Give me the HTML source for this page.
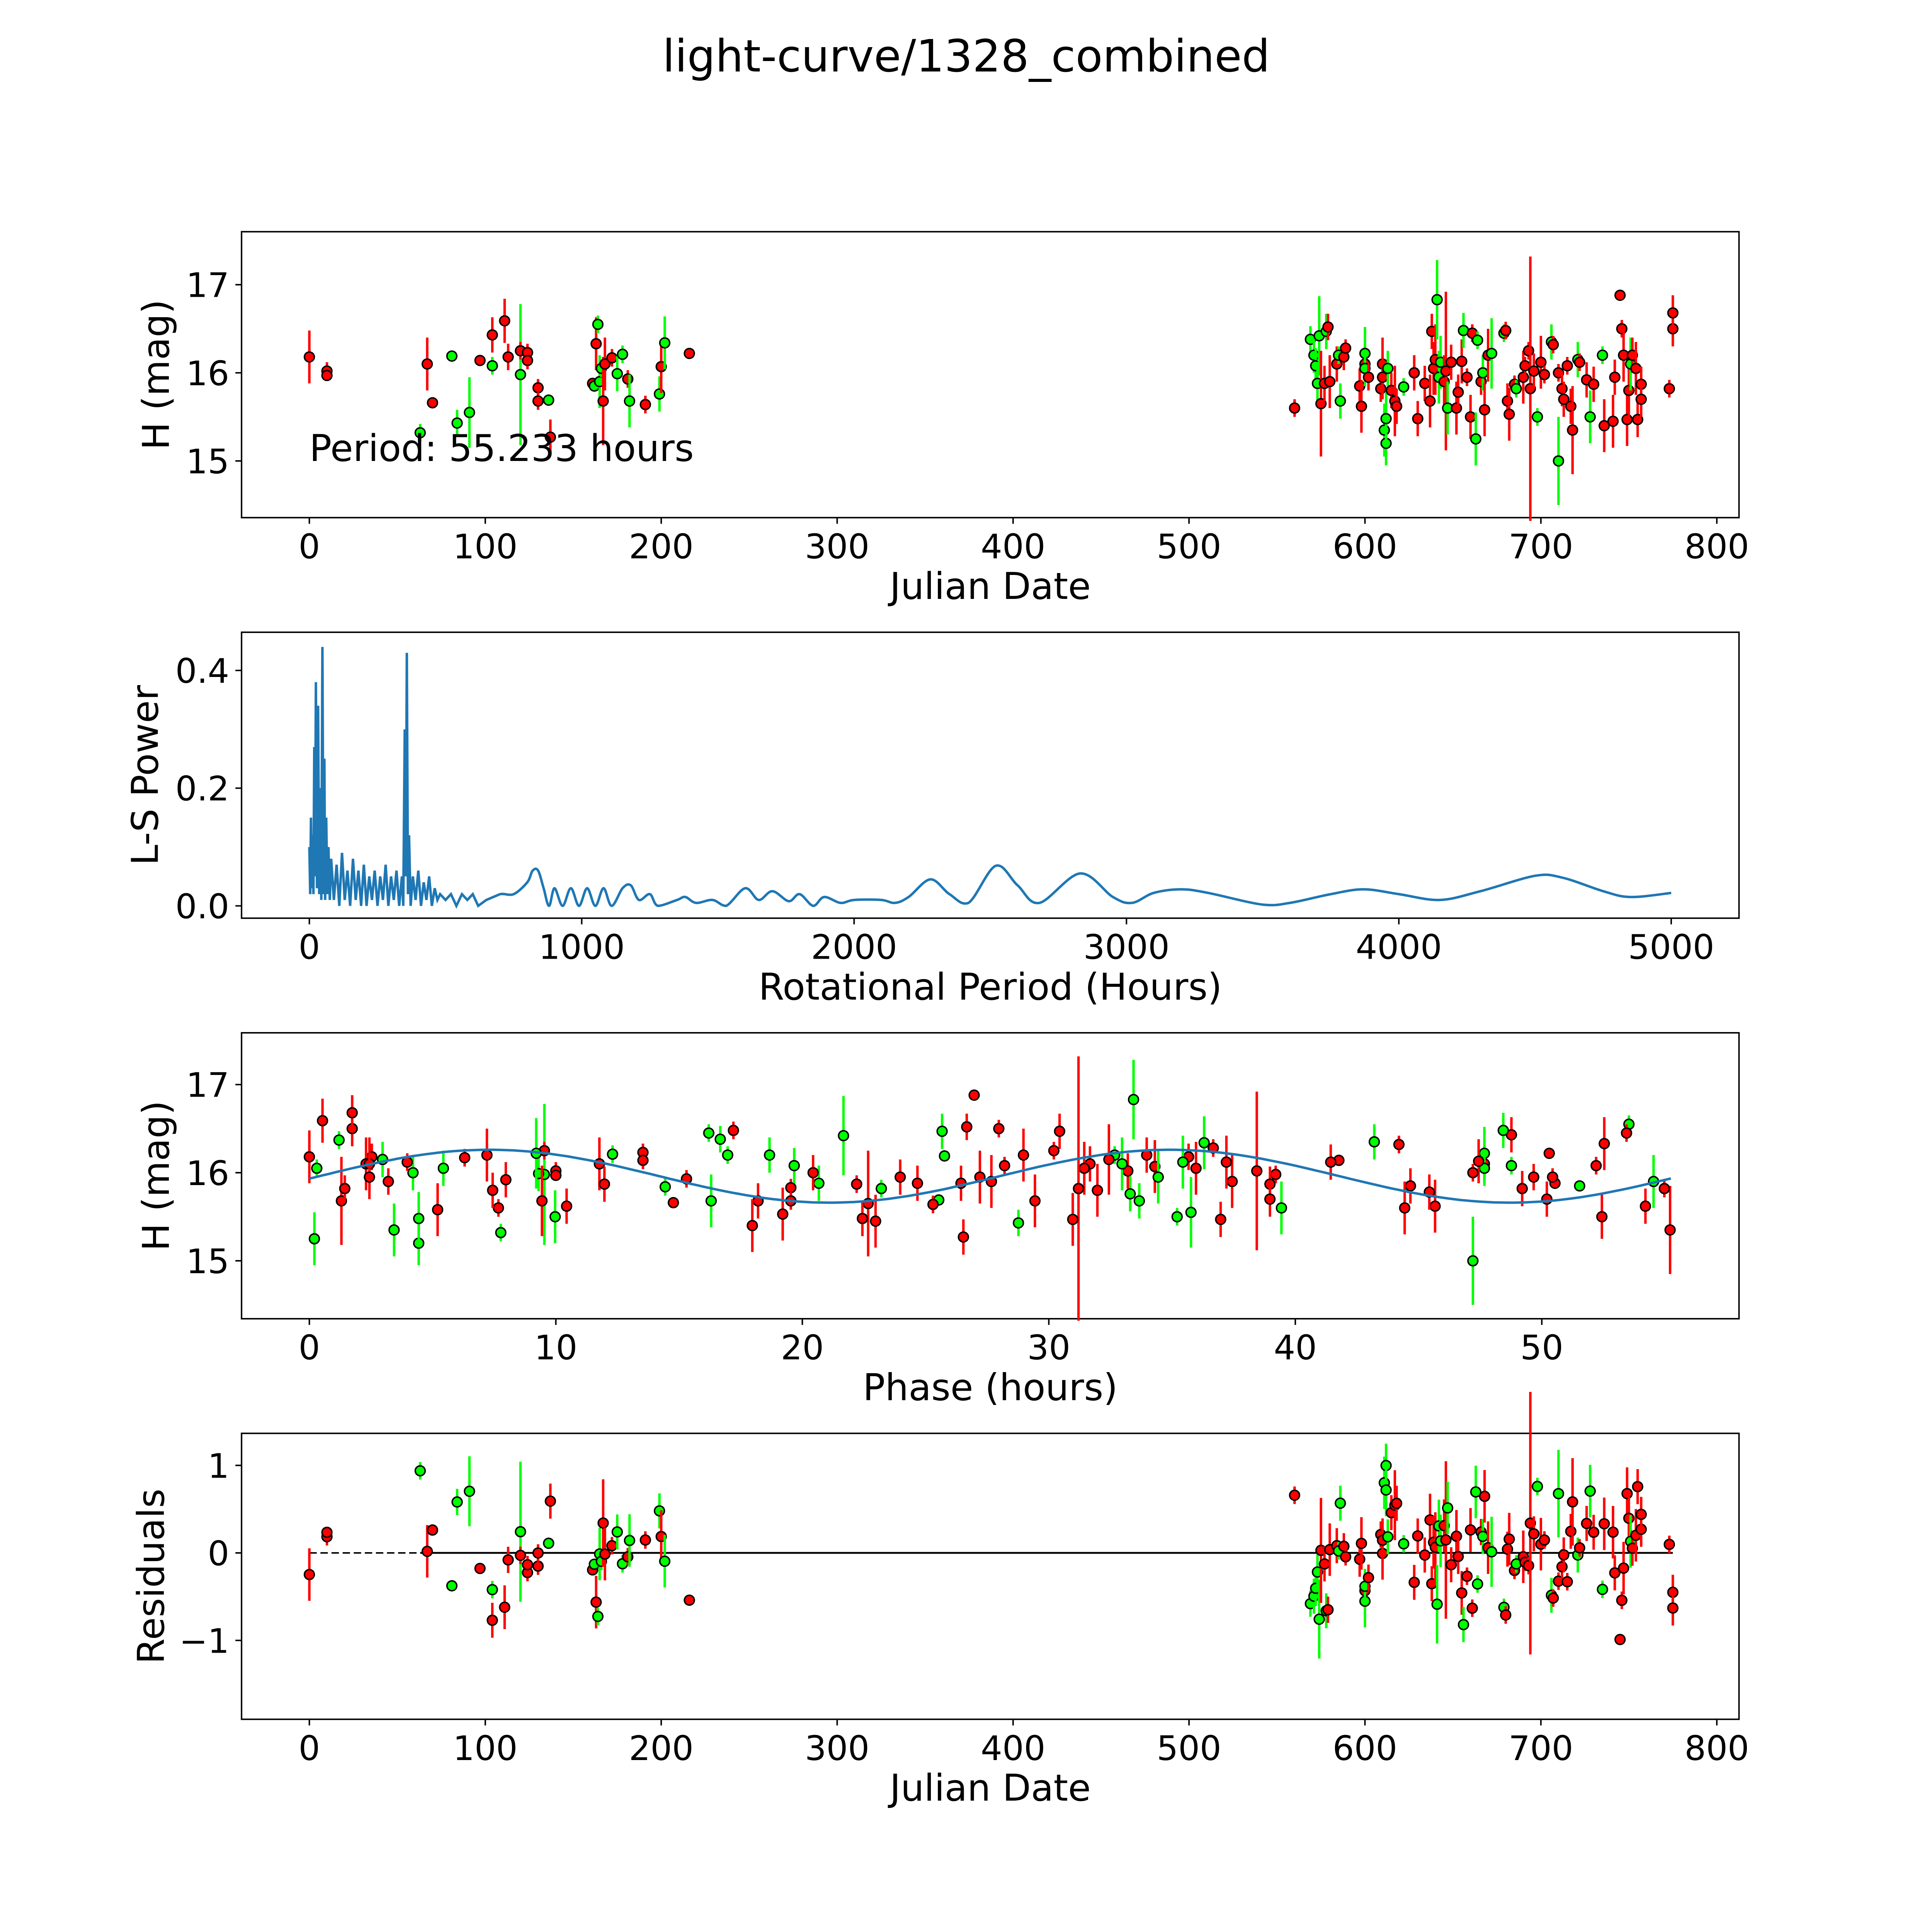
<!DOCTYPE html>
<html><head><meta charset="utf-8"><style>
html,body{margin:0;padding:0;background:#fff;width:5400px;height:5400px;overflow:hidden;}
svg{display:block;font-family:"DejaVu Sans","Liberation Sans",sans-serif;}
</style></head><body>
<svg id="chart" width="5400" height="5400" viewBox="0 0 1693 1693" xmlns="http://www.w3.org/2000/svg">
<rect width="1693" height="1693" fill="#fff"/>
<text x="784" y="58" font-size="36" text-anchor="middle">light-curve/1328_combined</text>
<g id="g1"></g>
<g id="g2"></g>
<g id="g3"></g>
<g id="g4"></g>
</svg>
<script>
const PERIOD = 55.233;
const jd = [0,10,10,63,67,70,81,84,91,97,104,104,111,113,120,120,124,124,130,130,136,137,161,162,163,164,165,166,167,168,172,175,178,181,182,191,199,200,202,216,
560,569,571,572,573,574,575,577,578,579,580,584,585,586,588,589,597,598,600,600,600,602,609,610,610,611,612,612,613,615,617,618,622,628,630,634,637,638,639,640,641,642,643,645,646,647,649,652,653,655,656,658,660,661,663,664,666,667,668,670,672,679,680,681,682,685,686,690,691,693,694,696,698,700,702,706,707,710,710,712,713,715,717,718,721,722,726,728,730,735,736,741,742,745,746,747,749,750,751,752,754,755,757,757,773,775,775];
const mag = [16.18,16.02,15.97,15.32,16.1,15.66,16.19,15.43,15.55,16.14,16.08,16.43,16.59,16.18,15.98,16.25,16.23,16.14,15.83,15.68,15.69,15.27,15.88,15.85,16.33,16.55,15.9,16.05,15.68,16.1,16.17,15.99,16.21,15.93,15.68,15.64,15.76,16.07,16.34,16.22,
15.6,16.38,16.2,16.08,15.88,16.42,15.65,15.88,16.47,16.52,15.9,16.1,16.2,15.68,16.18,16.28,15.85,15.62,16.1,16.22,16.05,15.95,15.82,16.1,15.95,15.35,15.2,15.48,16.05,15.8,15.68,15.62,15.84,16.0,15.48,15.88,15.68,16.47,16.05,16.15,16.83,15.95,16.12,15.9,16.02,15.6,16.12,15.6,15.78,16.13,16.48,15.95,15.5,16.45,15.25,16.37,15.9,16.0,15.58,16.2,16.22,16.45,16.48,15.68,15.53,15.87,15.82,15.95,16.08,16.25,15.82,16.02,15.5,16.12,15.98,16.35,16.32,16.0,15.0,15.82,15.7,16.08,15.62,15.35,16.15,16.12,15.92,15.5,15.87,16.2,15.4,15.45,15.95,16.88,16.5,16.2,15.47,15.8,16.1,16.2,16.05,15.47,15.87,15.7,15.82,16.5,16.68];
const err = [0.3,0.1,0.05,0.1,0.3,0.05,0.05,0.15,0.4,0.05,0.1,0.2,0.25,0.15,0.8,0.1,0.1,0.1,0.1,0.1,0.05,0.2,0.05,0.05,0.3,0.1,0.3,0.1,0.5,0.3,0.1,0.2,0.1,0.1,0.3,0.1,0.2,0.3,0.3,0.05,
0.1,0.15,0.2,0.2,0.2,0.45,0.6,0.2,0.2,0.15,0.3,0.2,0.1,0.2,0.15,0.1,0.2,0.3,0.2,0.3,0.2,0.15,0.15,0.3,0.25,0.3,0.25,0.3,0.2,0.2,0.4,0.2,0.1,0.2,0.2,0.2,0.3,0.2,0.3,0.4,0.45,0.3,0.3,0.3,0.9,0.3,0.2,0.3,0.2,0.25,0.2,0.1,0.25,0.1,0.3,0.1,0.15,0.2,0.3,0.3,0.4,0.1,0.1,0.2,0.3,0.1,0.1,0.3,0.1,0.1,1.5,0.2,0.1,0.3,0.1,0.2,0.1,0.1,0.5,0.2,0.2,0.1,0.2,0.5,0.2,0.1,0.2,0.3,0.2,0.1,0.3,0.3,0.2,0.05,0.1,0.3,0.3,0.3,0.3,0.2,0.3,0.2,0.2,0.2,0.1,0.2,0.2];
const band = "rrrgrrgggrgrrrgrrrrrgrrgrgggrrrggrgrgrgr"+"rgggggrrgrrrggrrrrrggrrrrggggrrrgrrrrrrrgggrrgrrrrgrrrggrgrrggrrrrgrrrrrgrrgrrgrrrrrgrrgrgrrrrrrrrgrrrrrrrrr";
const perX = [0,3,6,9,12,15,18,21,24,28,32,36,40,44,48,52,55,58,62,66,70,75,80,90,100,110,120,130,140,150,160,170,180,190,200,210,220,230,240,250,260,270,280,290,300,310,320,330,340,345,350,354,358,362,366,372,380,390,400,410,420,430,440,450,460,470,480,500,520,540,560,580,600,620,650,700,750,800,820,840,860,880,900,930,960,990,1020,1050,1080,1110,1150,1180,1210,1250,1280,1350,1380,1420,1480,1530,1600,1650,1700,1760,1800,1850,1890,1950,2000,2100,2150,2200,2280,2350,2420,2520,2600,2680,2830,2950,3020,3100,3200,3300,3500,3600,3750,3870,4000,4150,4300,4500,4600,4750,4850,5000];
const perY = [0.1,0.02,0.15,0.03,0.12,0.02,0.27,0.05,0.38,0.03,0.34,0.02,0.2,0.01,0.44,0.02,0.25,0.01,0.15,0.02,0.1,0.01,0.08,0.01,0.07,0.0,0.09,0.01,0.06,0.0,0.08,0.01,0.06,0.0,0.07,0.0,0.05,0.01,0.06,0.0,0.05,0.01,0.07,0.0,0.05,0.01,0.06,0.0,0.05,0.0,0.3,0.05,0.43,0.02,0.12,0.0,0.05,0.01,0.06,0.0,0.04,0.01,0.05,0.0,0.03,0.01,0.02,0.01,0.02,0.0,0.02,0.01,0.02,0.0,0.01,0.02,0.02,0.04,0.06,0.06,0.03,0.0,0.03,0.0,0.03,0.0,0.03,0.0,0.03,0.0,0.03,0.035,0.01,0.02,0.0,0.01,0.015,0.005,0.01,0.0,0.03,0.01,0.025,0.008,0.02,0.0,0.015,0.005,0.01,0.01,0.005,0.015,0.045,0.02,0.005,0.068,0.035,0.005,0.055,0.015,0.005,0.022,0.028,0.022,0.002,0.005,0.02,0.028,0.02,0.01,0.025,0.051,0.048,0.025,0.015,0.022];
const jdTicks = [0,100,200,300,400,500,600,700,800];
const magTicks = [15,16,17];
const perTicksX = [0,1000,2000,3000,4000,5000];
const perTicksY = [0.0,0.2,0.4];
const phaseTicks = [0,10,20,30,40,50];
const resTicks = [-1,0,1];
const MODEL_MEAN = 15.96, MODEL_AMP = 0.3, MODEL_SHIFT = 0.4, MODEL_HALF = 27.6;
function model(p){return MODEL_MEAN + MODEL_AMP*Math.sin(2*Math.PI*(p-MODEL_SHIFT)/MODEL_HALF);}

const NS="http://www.w3.org/2000/svg";
function mk(parent,tag,attrs){const e=document.createElementNS(NS,tag);for(const k in attrs)e.setAttribute(k,attrs[k]);parent.appendChild(e);return e;}
const L=196,R=1411;
function lin(d0,d1,r0,r1){return v=>r0+(v-d0)*(r1-r0)/(d1-d0);}
function frame(g,top,bot,xs,xt,ys,yt,xlabel,ylabel,ylx,fmt){
  const r=mk(g,'rect',{x:L,y:top,width:R-L,height:bot-top,fill:'none',stroke:'#000','stroke-width':1.2});
  
  
  xt.forEach(v=>{const x=xs(v);mk(g,'line',{x1:x,x2:x,y1:bot,y2:bot+5,stroke:'#000','stroke-width':1.2});
    const t=mk(g,'text',{x:x,y:bot+33,'font-size':27.5,'text-anchor':'middle'});t.textContent=v;
    
    });
  yt.forEach(v=>{const y=ys(v);mk(g,'line',{x1:L-5,x2:L,y1:y,y2:y,stroke:'#000','stroke-width':1.2});
    const t=mk(g,'text',{x:L-10,y:y+10,'font-size':27.5,'text-anchor':'end'});t.textContent=fmt?v.toFixed(1):(v<0?'\u2212'+(-v):v);
    
    });
  const xl=mk(g,'text',{x:(L+R)/2,y:bot+66,'font-size':30,'text-anchor':'middle'});xl.textContent=xlabel;
  
  
  const cy=(top+bot)/2;
  const yl=mk(g,'text',{x:ylx,y:cy,'font-size':30,'text-anchor':'middle',transform:`rotate(-90 ${ylx} ${cy})`});yl.textContent=ylabel;
  
  
}
function point(g,x,y,e,col,ys){
  const c=col==='g'?'#00ff00':'#ff0000';
  const ln=mk(g,'line',{x1:x,x2:x,y1:ys(y-e),y2:ys(y+e),stroke:c,'stroke-width':2});
  
  
  const ci=mk(g,'circle',{cx:x,cy:ys(y),r:4,fill:c,stroke:'#000','stroke-width':1.2});
  
  
}
// Panel 1
(function(){const g=document.getElementById('g1');const xs=lin(0,800,251,1393),ys=lin(15,17,374,231);
 frame(g,188,420,xs,jdTicks,ys,magTicks,'Julian Date','H (mag)',137,false);
 for(let i=0;i<jd.length;i++)point(g,xs(jd[i]),mag[i],err[i],band[i],ys);
 const t=mk(g,'text',{x:251,y:374,'font-size':30});t.textContent='Period: 55.233 hours';
 
 })();
// Panel 2
(function(){const g=document.getElementById('g2');const xs=lin(0,5000,251,1356),ys=lin(0,0.4,735,544);
 frame(g,513,745,xs,perTicksX,ys,perTicksY,'Rotational Period (Hours)','L-S Power',128,true);
 const P=perX.map((p,i)=>[xs(p),ys(perY[i])]);
 let d='M'+P[0][0].toFixed(1)+','+P[0][1].toFixed(1);
 for(let i=1;i<P.length;i++){
   if(perX[i]<=700){d+=' L'+P[i][0].toFixed(1)+','+P[i][1].toFixed(1);continue;}
   const p0=P[Math.max(i-2,0)],p1=P[i-1],p2=P[i],p3=P[Math.min(i+1,P.length-1)];
   const c1x=p1[0]+(p2[0]-p0[0])/6,c1y=p1[1]+(p2[1]-p0[1])/6;
   const c2x=p2[0]-(p3[0]-p1[0])/6,c2y=p2[1]-(p3[1]-p1[1])/6;
   d+=` C${c1x.toFixed(1)},${Math.min(c1y,735).toFixed(1)} ${c2x.toFixed(1)},${Math.min(c2y,735).toFixed(1)} ${p2[0].toFixed(1)},${p2[1].toFixed(1)}`;
 }
 const pl=mk(g,'path',{d:d,fill:'none',stroke:'#1f77b4','stroke-width':2});
 
 })();
// Panel 3
(function(){const g=document.getElementById('g3');const xs=lin(0,50,251,1251),ys=lin(15,17,1023,880);
 frame(g,838,1070,xs,phaseTicks,ys,magTicks,'Phase (hours)','H (mag)',137,false);
 for(let i=0;i<jd.length;i++){const p=jd[i]%PERIOD;point(g,xs(p),mag[i],err[i],band[i],ys);}
 let pts=[];for(let k=0;k<=200;k++){const p=PERIOD*k/200;pts.push(xs(p).toFixed(1)+','+ys(model(p)).toFixed(1));}
 const pl=mk(g,'polyline',{points:pts.join(' '),fill:'none',stroke:'#1f77b4','stroke-width':2});
 
 })();
// Panel 4
(function(){const g=document.getElementById('g4');const xs=lin(0,800,251,1393),ys=lin(-1,1,1331,1189);
 frame(g,1163,1395,xs,jdTicks,ys,resTicks,'Julian Date','Residuals',133,false);
 const d=mk(g,'line',{x1:xs(0),x2:xs(63),y1:ys(0),y2:ys(0),stroke:'#000','stroke-width':1.2,'stroke-dasharray':'6,3'});
 
 
 const s=mk(g,'line',{x1:xs(63),x2:xs(775),y1:ys(0),y2:ys(0),stroke:'#000','stroke-width':1.5});
 
 
 for(let i=0;i<jd.length;i++){const p=jd[i]%PERIOD;point(g,xs(jd[i]),model(p)-mag[i],err[i],band[i],ys);}})();
</script>
</body></html>
